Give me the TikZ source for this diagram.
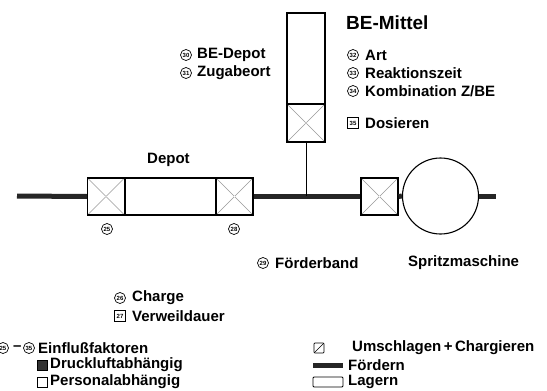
\documentclass[tikz,border=0pt]{standalone}
\usepackage{fontspec}
\setmainfont{Liberation Sans}
\begin{document}
\begin{tikzpicture}[x=1pt,y=-1pt,
  lbl/.style={anchor=west,inner sep=0pt,font=\bfseries\fontsize{15}{17}\selectfont},
  num/.style={circle,draw,line width=0.7pt,inner sep=0pt,minimum size=11pt,font=\bfseries\fontsize{6}{6}\selectfont},
  snum/.style={rectangle,draw,line width=0.7pt,inner sep=0pt,minimum size=10.5pt,font=\bfseries\fontsize{6}{6}\selectfont},
  xbox/.style={rectangle,draw,line width=1.1pt,fill=white,minimum size=37pt,inner sep=0pt,
    path picture={\draw[black!40,line width=0.5pt] (path picture bounding box.north west) -- (path picture bounding box.south east) (path picture bounding box.north east) -- (path picture bounding box.south west);
      \fill (path picture bounding box.center) circle (0.7pt);}},
  lager/.style={rectangle,draw,line width=1.1pt,fill=white,inner sep=0pt},
  band/.style={line width=5pt,black!85}]
  \useasboundingbox (0,0) rectangle (547,391);
  \node[xbox] (d1) at (106,196.5) {};
  \node[lager,minimum width=91pt,minimum height=37pt] (d2) at (170.5,196.5) {};
  \node[xbox] (d3) at (234.5,196.5) {};
  \node[xbox] (u1) at (379.5,196.5) {};
  \node[circle,draw,line width=1.1pt,fill=white,minimum size=76pt,inner sep=0pt] (sm) at (440.5,196) {};
  \node[lager,minimum width=38pt,minimum height=91pt] (be) at (306,58.5) {};
  \node[xbox,minimum width=38pt,minimum height=38pt] (bx) at (306,123) {};
  \coordinate (l0) at (17,196);
  \coordinate (r0) at (496,196);
  \coordinate (t0) at (306,196);
  \draw[band] (l0) -- (d1.west);
  \draw[band] (d3.east) -- (u1.west);
  \draw[band] (u1.east) -- (sm.west);
  \draw[band] (sm.east) -- (r0);
  \draw[line width=0.8pt] (bx.south) -- (t0);
  \node[lbl,font=\bfseries\fontsize{19}{21}\selectfont] (title) at (346,23) {BE-Mittel};
  \node[num] (n30) at (186,55) {30};
  \node[lbl] (t30) at (197,55) {BE-Depot};
  \node[num] (n31) at (186,73) {31};
  \node[lbl] (t31) at (197,73) {Zugabeort};
  \node[num] (n32) at (353,55) {32};
  \node[lbl] (t32) at (365,55) {Art};
  \node[num] (n33) at (353,73) {33};
  \node[lbl] (t33) at (365,73) {Reaktionszeit};
  \node[num] (n34) at (353,91) {34};
  \node[lbl] (t34) at (365,91) {Kombination Z/BE};
  \node[snum] (n35) at (353,123) {35};
  \node[lbl] (t35) at (365,123) {Dosieren};
  \node[lbl] (depot) at (147,160) {Depot};
  \node[num] (n25) at (107,229) {25};
  \node[num] (n28) at (234,229) {28};
  \node[num] (n29) at (263,263) {29};
  \node[lbl] (t29) at (275,263) {Förderband};
  \node[lbl] (spm) at (408,263) {Spritzmaschine};
  \node[num] (n26) at (120,298) {26};
  \node[lbl] (t26) at (132,298) {Charge};
  \node[snum] (n27) at (120,316) {27};
  \node[lbl] (t27) at (132,316) {Verweildauer};
  \node[num] (k25) at (3,348) {25};
  \node[lbl] (kdash) at (13,348) {–};
  \node[num] (k35) at (29,348) {35};
  \node[lbl] (kein) at (38,348) {Einflußfaktoren};
  \node[draw,fill=black!80,minimum size=10pt,inner sep=0pt] (kd) at (42,365) {};
  \node[lbl] (tkd) at (50,365) {Druckluftabhängig};
  \node[draw,line width=0.7pt,fill=white,minimum size=10pt,inner sep=0pt] (kp) at (42,382) {};
  \node[lbl] (tkp) at (50,382) {Personalabhängig};
  \node[draw,line width=0.7pt,rounded corners=0.8pt,minimum size=10pt,inner sep=0pt,
    path picture={\draw[line width=0.6pt] (path picture bounding box.south west) -- (path picture bounding box.north east);}] (ku) at (319,348) {};
  \node[lbl] (tku) at (352,348) {Umschlagen\,+\,Chargieren};
  \coordinate (kf1) at (313,365);
  \coordinate (kf2) at (343,365);
  \draw[band] (kf1) -- (kf2);
  \node[lbl] (tkf) at (348,365) {Fördern};
  \node[draw,line width=0.8pt,rounded corners=1pt,minimum width=30pt,minimum height=10pt,inner sep=0pt] (kl) at (328,382) {};
  \node[lbl] (tkl) at (348,382) {Lagern};
\end{tikzpicture}
\end{document}
